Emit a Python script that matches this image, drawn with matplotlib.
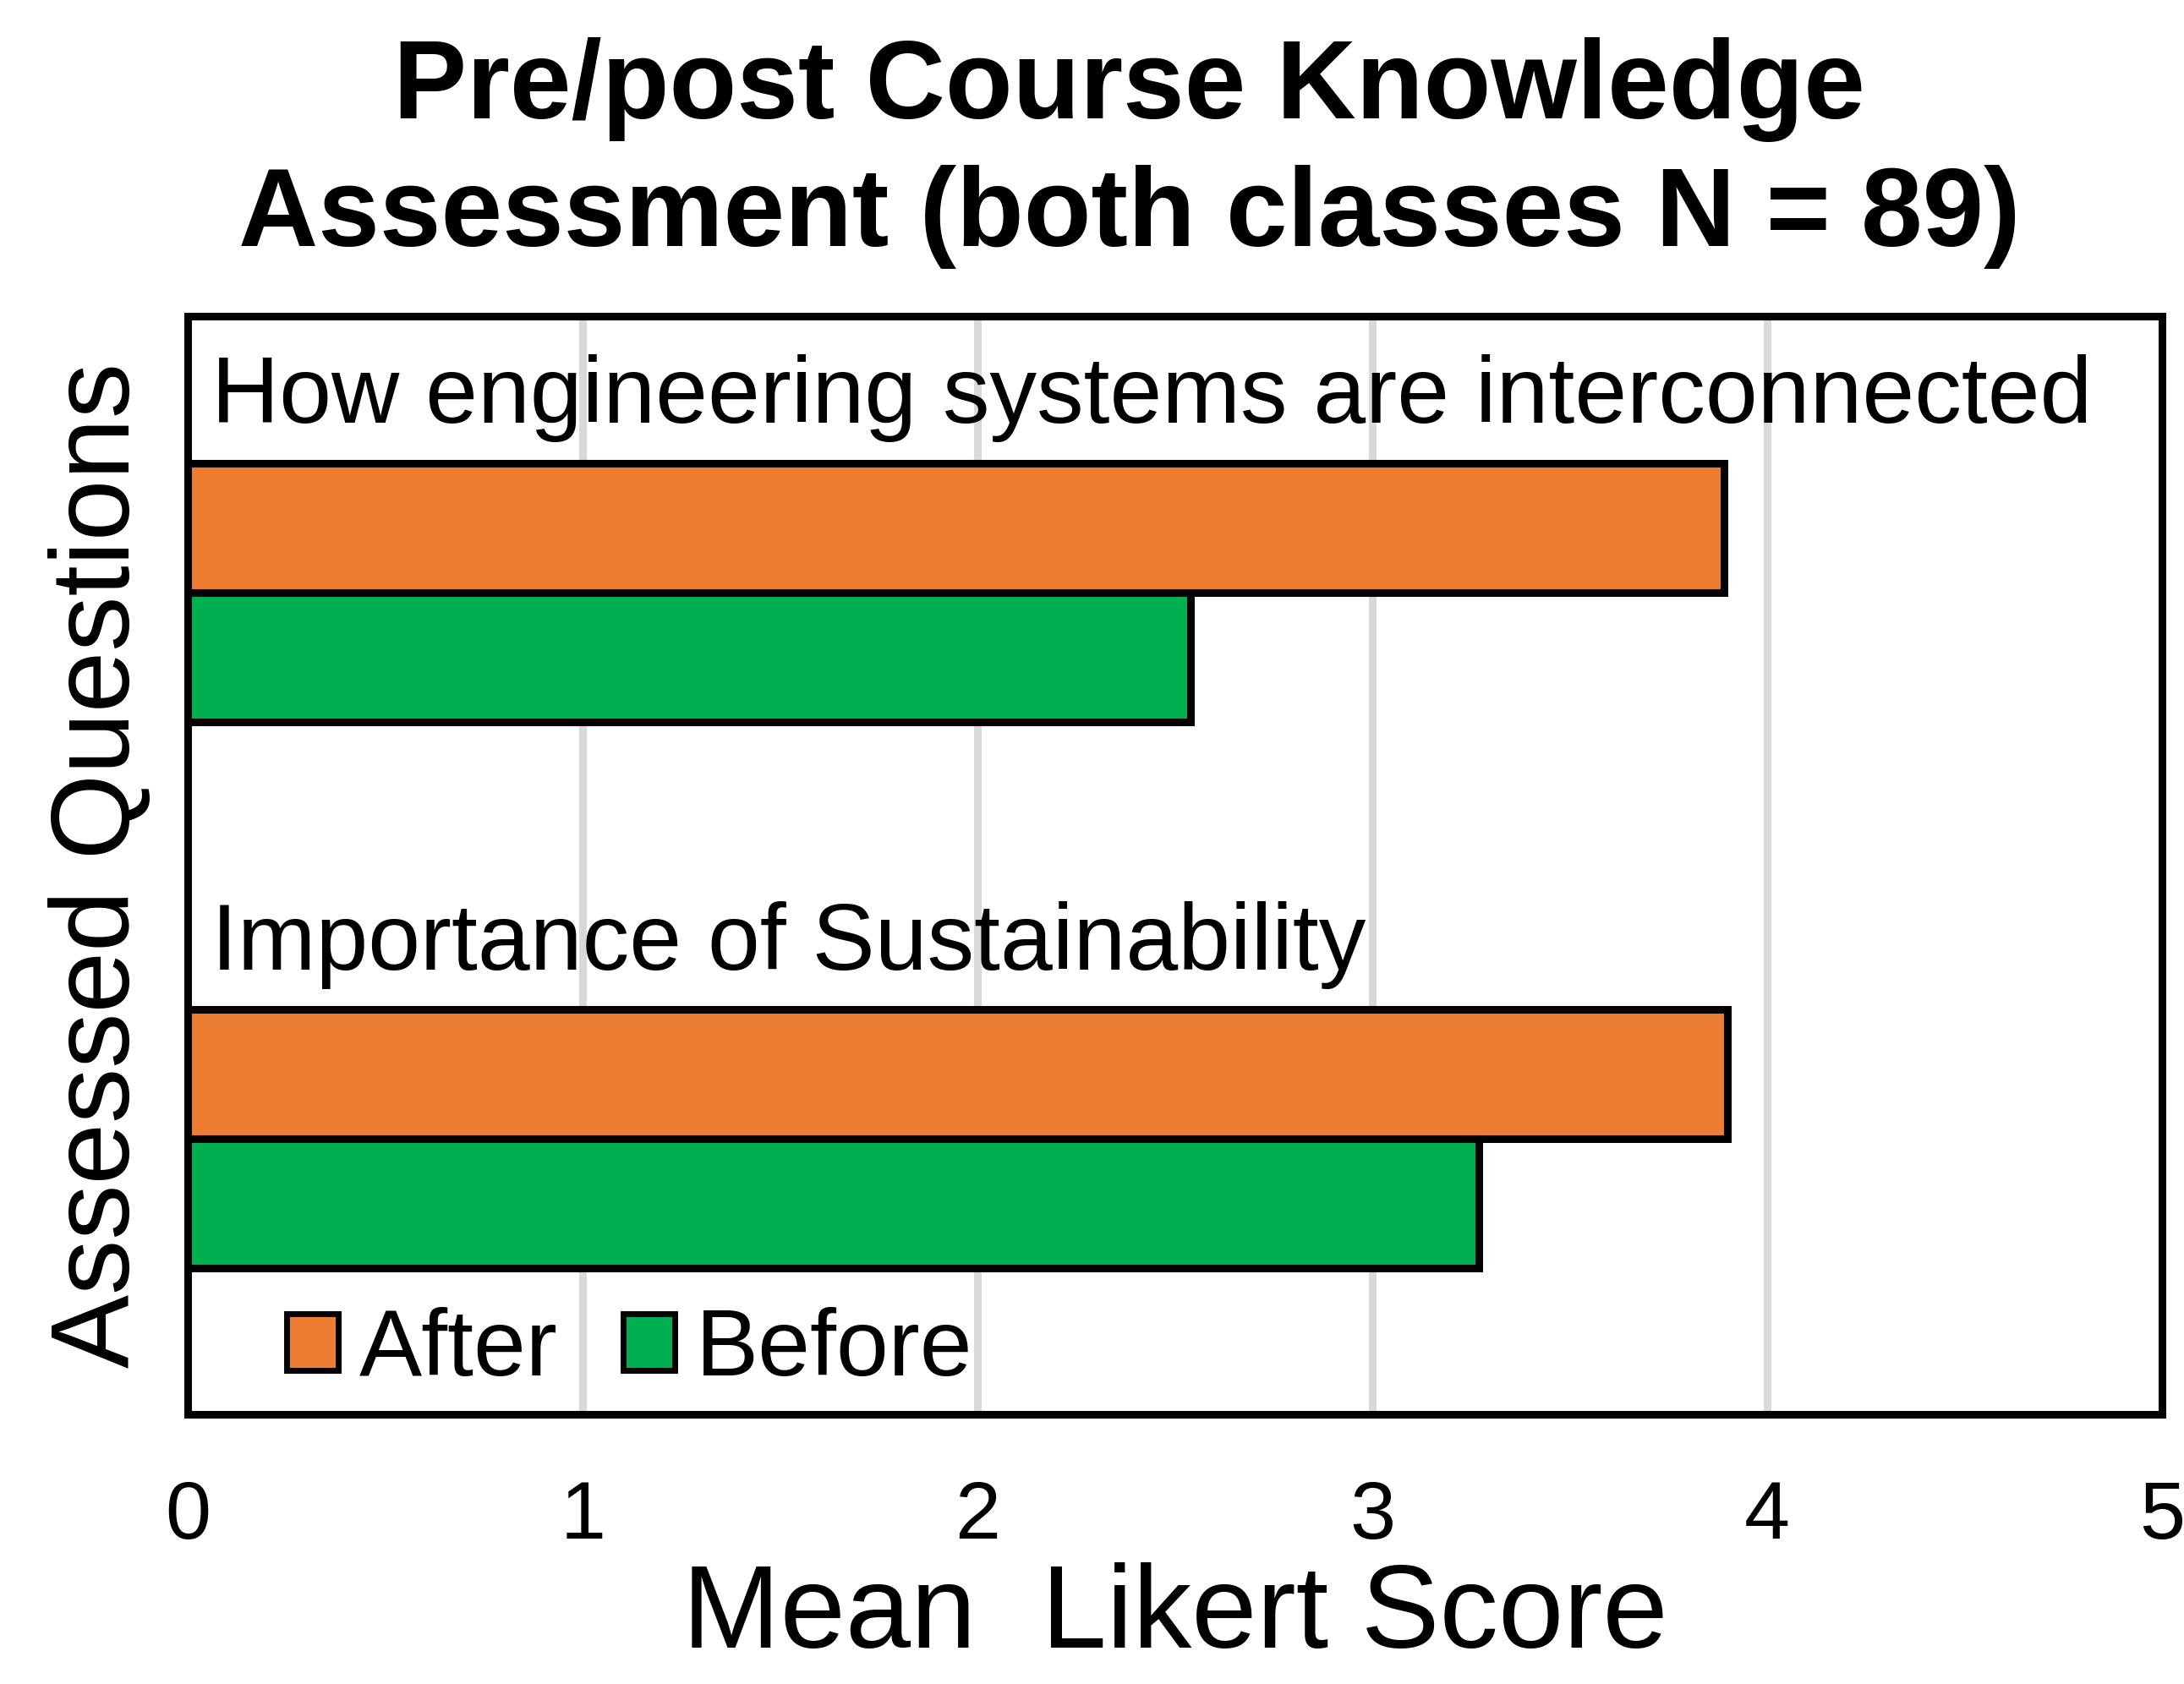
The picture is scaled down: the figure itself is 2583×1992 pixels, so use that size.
import matplotlib.pyplot as plt
from matplotlib.patches import Patch

plt.rcParams['font.family'] = ['Liberation Sans', 'DejaVu Sans']

questions = ["How engineering systems are interconnected", "Importance of Sustainability"]
after = [3.89, 3.90]
before = [2.54, 3.27]
xticks = [0, 1, 2, 3, 4, 5]

orange = "#ED7D31"
green = "#00B050"

fig = plt.figure(figsize=(25.83, 19.92), dpi=100)
ax = fig.add_axes([0.086, 0.160, 0.904, 0.652])

pos = [1, 0]  # group centres, top to bottom
h = 0.237
ax.barh([p + h / 2 for p in pos], after, height=h, color=orange,
        edgecolor="black", linewidth=6.5, zorder=3)
ax.barh([p - h / 2 for p in pos], before, height=h, color=green,
        edgecolor="black", linewidth=6.5, zorder=3)

for p, q in zip(pos, questions):
    ax.text(0.06, p + 0.355, q, fontsize=80, va="center", ha="left", zorder=4)

ax.set_xlim(0, 5)
ax.set_ylim(-0.505, 1.505)
ax.set_xticks(xticks)
ax.set_xticklabels([str(t) for t in xticks], fontsize=70)
ax.set_yticks([])
ax.tick_params(axis="x", length=0, pad=55)
ax.xaxis.grid(True, color="#d9d9d9", linewidth=6.5, zorder=0)
ax.set_axisbelow(True)
for s in ax.spines.values():
    s.set_linewidth(6.5)
    s.set_color("black")

ax.set_xlabel("Mean  Likert Score", fontsize=100, labelpad=6)
ax.set_ylabel("Assessed Questions", fontsize=94, labelpad=30)

fig.text(0.517, 0.978, "Pre/post Course Knowledge\nAssessment (both classes N = 89)",
         ha="center", va="top", fontsize=94, fontweight="bold", linespacing=1.28)

handles = [Patch(facecolor=orange, edgecolor="black", linewidth=5),
           Patch(facecolor=green, edgecolor="black", linewidth=5)]
ax.legend(handles, ["After", "Before"], loc="center left", bbox_to_anchor=(0.05, 0.058),
          ncol=2, frameon=False, fontsize=80, handlelength=0.55, handleheight=0.55,
          handletextpad=0.22, columnspacing=0.7, borderpad=0, borderaxespad=0)

plt.savefig("out.png", dpi=100)
